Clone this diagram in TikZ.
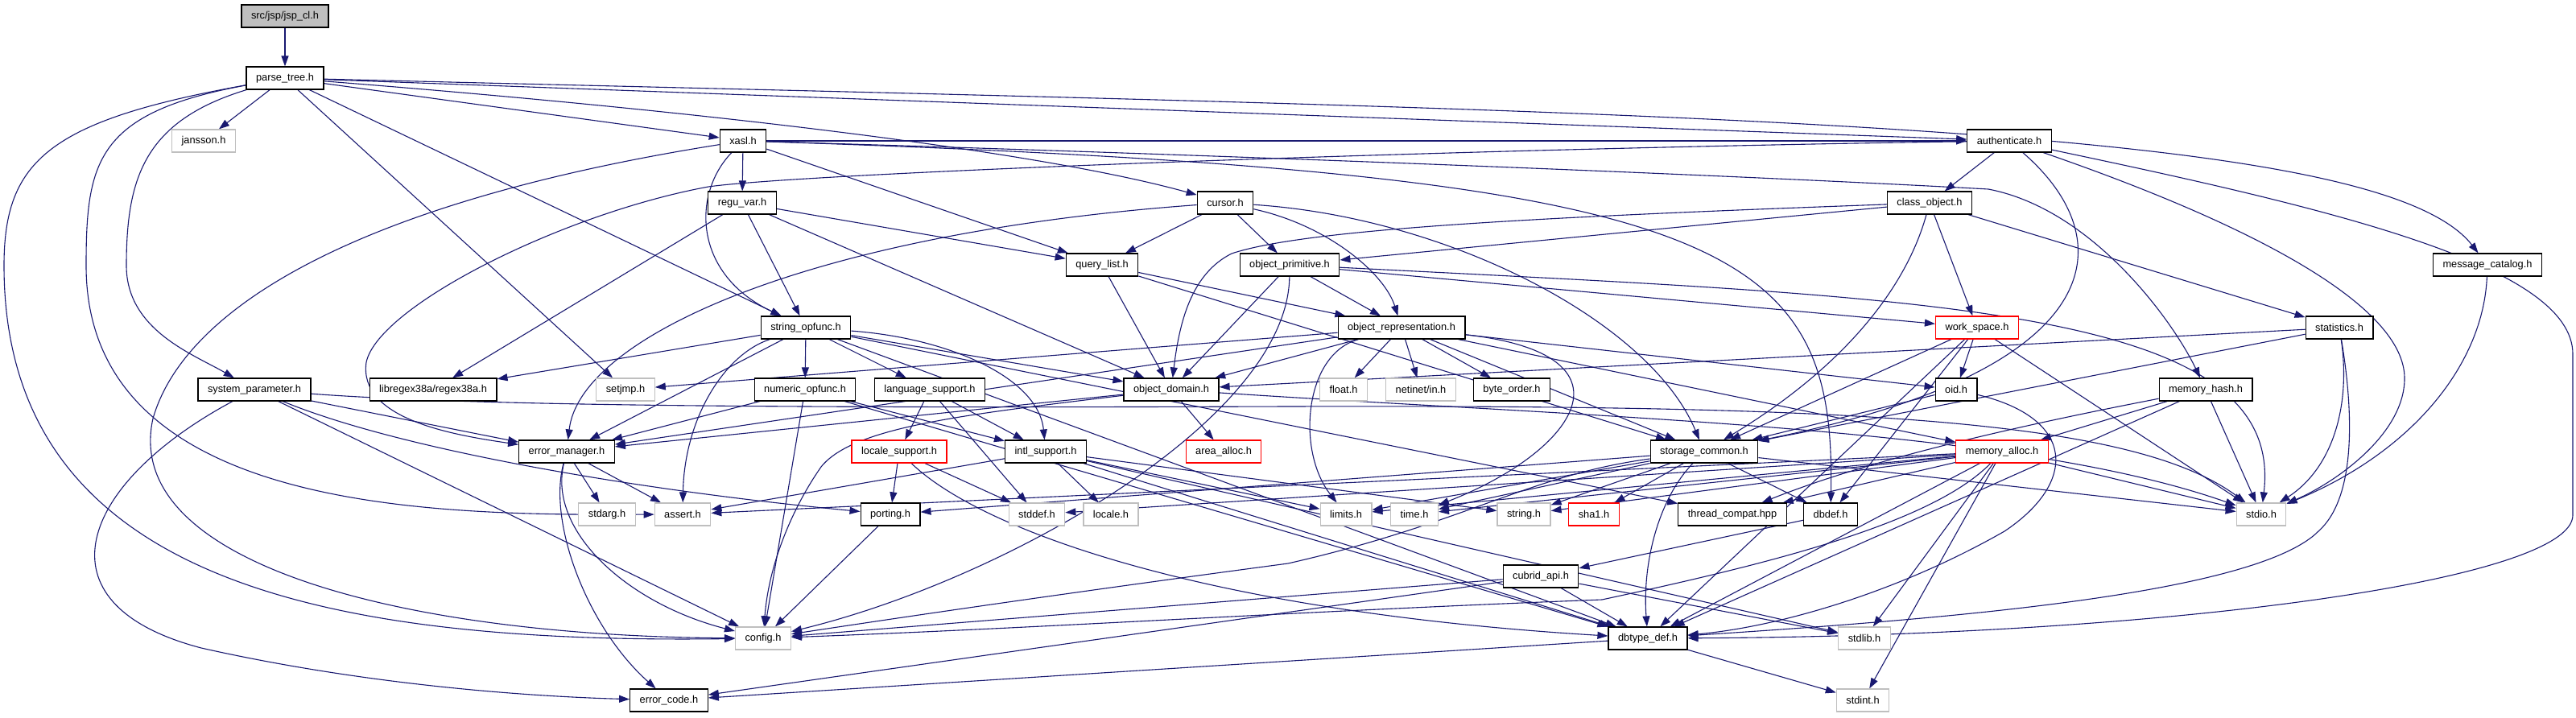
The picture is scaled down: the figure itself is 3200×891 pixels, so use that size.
\documentclass[tikz,border=0pt]{standalone}
\usepackage{fontspec}
\setmainfont{Liberation Sans}
\usetikzlibrary{arrows.meta}
\definecolor{incl}{RGB}{25,25,112}
\definecolor{sysgray}{RGB}{191,191,191}
\definecolor{trunc}{RGB}{255,0,0}
\pgfdeclarelayer{edgelayer}
\pgfsetlayers{edgelayer,main}
\begin{document}
\begin{tikzpicture}[x=1pt, y=-1pt, >={Stealth[length=13pt,width=9pt,inset=0pt]},
  font=\fontsize{12.8}{15}\selectfont,
  hdr/.style={draw=black, fill=white, line width=1.2pt, inner xsep=12pt, inner ysep=0pt, minimum height=28pt},
  syshdr/.style={hdr, draw=sysgray},
  cuthdr/.style={hdr, draw=trunc},
  tophdr/.style={hdr, fill=sysgray},
  dep/.style={->, incl, line width=1.1pt}]
  \useasboundingbox (0,0) rectangle (3200,891);
  \node[tophdr] (jspcl) at (354,20) {src/jsp/jsp\_cl.h};
  \node[hdr] (parsetree) at (354,97) {parse\_tree.h};
  \node[syshdr] (jansson) at (253,175) {jansson.h};
  \node[hdr] (xasl) at (923,175) {xasl.h};
  \node[hdr] (authenticate) at (2496,175) {authenticate.h};
  \node[hdr] (reguvar) at (922,252) {regu\_var.h};
  \node[hdr] (cursor) at (1522,252) {cursor.h};
  \node[hdr] (classobject) at (2397,252) {class\_object.h};
  \node[hdr] (querylist) at (1369,329) {query\_list.h};
  \node[hdr] (objprim) at (1602,329) {object\_primitive.h};
  \node[hdr] (msgcat) at (3090,329) {message\_catalog.h};
  \node[hdr] (stringop) at (1001,407) {string\_opfunc.h};
  \node[hdr] (objrep) at (1741,407) {object\_representation.h};
  \node[cuthdr] (workspace) at (2456,407) {work\_space.h};
  \node[hdr] (statistics) at (2906,407) {statistics.h};
  \node[hdr] (syspar) at (316,484) {system\_parameter.h};
  \node[hdr] (libregex) at (538,484) {libregex38a/regex38a.h};
  \node[syshdr] (setjmp) at (777,484) {setjmp.h};
  \node[hdr] (numop) at (1000,484) {numeric\_opfunc.h};
  \node[hdr] (langsup) at (1155,484) {language\_support.h};
  \node[hdr] (objdomain) at (1455,484) {object\_domain.h};
  \node[syshdr] (floath) at (1669,484) {float.h};
  \node[syshdr] (netinet) at (1765,484) {netinet/in.h};
  \node[hdr] (byteorder) at (1878,484) {byte\_order.h};
  \node[hdr] (oid) at (2430,484) {oid.h};
  \node[hdr] (memhash) at (2740,484) {memory\_hash.h};
  \node[hdr] (errmgr) at (704,561) {error\_manager.h};
  \node[cuthdr] (localesup) at (1117,561) {locale\_support.h};
  \node[hdr] (intlsup) at (1299,561) {intl\_support.h};
  \node[cuthdr] (areaalloc) at (1520,561) {area\_alloc.h};
  \node[hdr] (storagecommon) at (2117,561) {storage\_common.h};
  \node[cuthdr] (memalloc) at (2487,561) {memory\_alloc.h};
  \node[syshdr] (stdarg) at (754,639) {stdarg.h};
  \node[syshdr] (assert) at (848,639) {assert.h};
  \node[hdr] (porting) at (1106,639) {porting.h};
  \node[syshdr] (stddef) at (1288,639) {stddef.h};
  \node[syshdr] (locale) at (1380,639) {locale.h};
  \node[syshdr] (limits) at (1672,639) {limits.h};
  \node[syshdr] (time) at (1757,639) {time.h};
  \node[syshdr] (string) at (1893,639) {string.h};
  \node[cuthdr] (sha1) at (1980,639) {sha1.h};
  \node[hdr] (threadcompat) at (2152,639) {thread\_compat.hpp};
  \node[hdr] (dbdef) at (2274,639) {dbdef.h};
  \node[syshdr] (stdio) at (2809,639) {stdio.h};
  \node[hdr] (cubridapi) at (1914,716) {cubrid\_api.h};
  \node[syshdr] (config) at (948,793) {config.h};
  \node[hdr] (dbtypedef) at (2047,793) {dbtype\_def.h};
  \node[syshdr] (stdlib) at (2316,793) {stdlib.h};
  \node[hdr] (errorcode) at (831,870) {error\_code.h};
  \node[syshdr] (stdint) at (2314,870) {stdint.h};
  \begin{pgfonlayer}{edgelayer}
  \draw[dep] (jspcl) -- (parsetree);
  \draw[dep] (parsetree) -- (jansson);
  \draw[dep] (parsetree) -- (xasl);
  \draw[dep] (parsetree) -- (authenticate);
  \draw[dep] (parsetree) .. controls (900,140) and (1300,190) .. (cursor);
  \draw[dep] (parsetree) .. controls (2100,140) and (2950,150) .. (msgcat);
  \draw[dep] (parsetree) -- (stringop);
  \draw[dep] (parsetree) -- (setjmp);
  \draw[dep] (parsetree) .. controls (60,150) and (5,200) .. (5,330) .. controls (5,720) and (400,800) .. (config);
  \draw[dep] (parsetree) .. controls (120,140) and (107,200) .. (107,330) .. controls (107,640) and (550,640) .. (assert);
  \draw[dep] (parsetree) .. controls (180,150) and (157,220) .. (157,330) .. controls (157,410) and (240,440) .. (syspar);
  \draw[dep] (xasl) -- (reguvar);
  \draw[dep] (xasl) -- (querylist);
  \draw[dep] (xasl) .. controls (860,240) and (860,340) .. (stringop);
  \draw[dep] (xasl) -- (authenticate);
  \draw[dep] (xasl) .. controls (1600,195) and (2200,220) .. (2470,235) .. controls (2600,260) and (2700,400) .. (memhash);
  \draw[dep] (xasl) .. controls (2150,215) and (2280,300) .. (dbdef);
  \draw[dep] (xasl) .. controls (450,250) and (230,380) .. (190,520) .. controls (150,700) and (500,790) .. (config);
  \draw[dep] (reguvar) -- (querylist);
  \draw[dep] (reguvar) -- (stringop);
  \draw[dep] (reguvar) -- (libregex);
  \draw[dep] (reguvar) -- (objdomain);
  \draw[dep] (cursor) -- (querylist);
  \draw[dep] (cursor) -- (objprim);
  \draw[dep] (cursor) .. controls (1650,280) and (1720,340) .. (objrep);
  \draw[dep] (cursor) .. controls (1800,270) and (2050,400) .. (storagecommon);
  \draw[dep] (cursor) .. controls (1000,290) and (720,420) .. (errmgr);
  \draw[dep] (authenticate) -- (classobject);
  \draw[dep] (authenticate) .. controls (1800,185) and (1000,215) .. (880,232) .. controls (700,265) and (470,380) .. (455,450) .. controls (445,520) and (560,540) .. (errmgr);
  \draw[dep] (authenticate) .. controls (2640,300) and (2620,460) .. (storagecommon);
  \draw[dep] (authenticate) .. controls (2800,280) and (2987,380) .. (2987,470) .. controls (2987,540) and (2900,600) .. (stdio);
  \draw[dep] (authenticate) .. controls (2900,260) and (3196,330) .. (3196,440) -- (3196,640) .. controls (3196,720) and (2700,790) .. (dbtypedef);
  \draw[dep] (classobject) -- (objprim);
  \draw[dep] (classobject) -- (workspace);
  \draw[dep] (classobject) -- (statistics);
  \draw[dep] (classobject) .. controls (1900,270) and (1620,285) .. (1530,315) .. controls (1480,340) and (1465,400) .. (objdomain);
  \draw[dep] (classobject) .. controls (2370,350) and (2300,450) .. (storagecommon);
  \draw[dep] (querylist) -- (objrep);
  \draw[dep] (querylist) -- (objdomain);
  \draw[dep] (querylist) -- (storagecommon);
  \draw[dep] (objprim) -- (objrep);
  \draw[dep] (objprim) -- (objdomain);
  \draw[dep] (objprim) -- (workspace);
  \draw[dep] (objprim) .. controls (1600,520) and (1250,720) .. (config);
  \draw[dep] (objprim) .. controls (2400,370) and (2840,380) .. (stdio);
  \draw[dep] (msgcat) .. controls (3085,450) and (3000,560) .. (stdio);
  \draw[dep] (stringop) -- (numop);
  \draw[dep] (stringop) -- (langsup);
  \draw[dep] (stringop) .. controls (1180,420) and (1290,470) .. (intlsup);
  \draw[dep] (stringop) -- (objdomain);
  \draw[dep] (stringop) -- (libregex);
  \draw[dep] (stringop) -- (errmgr);
  \draw[dep] (stringop) .. controls (900,440) and (850,520) .. (assert);
  \draw[dep] (stringop) -- (dbtypedef);
  \draw[dep] (stringop) -- (threadcompat);
  \draw[dep] (objrep) -- (floath);
  \draw[dep] (objrep) -- (netinet);
  \draw[dep] (objrep) -- (byteorder);
  \draw[dep] (objrep) -- (setjmp);
  \draw[dep] (objrep) -- (objdomain);
  \draw[dep] (objrep) -- (errmgr);
  \draw[dep] (objrep) -- (storagecommon);
  \draw[dep] (objrep) -- (oid);
  \draw[dep] (objrep) -- (memalloc);
  \draw[dep] (objrep) .. controls (1620,440) and (1610,560) .. (limits);
  \draw[dep] (objrep) .. controls (2040,440) and (1960,560) .. (time);
  \draw[dep] (workspace) -- (oid);
  \draw[dep] (workspace) -- (storagecommon);
  \draw[dep] (workspace) -- (dbdef);
  \draw[dep] (workspace) -- (stdio);
  \draw[dep] (workspace) -- (dbtypedef);
  \draw[dep] (statistics) -- (objdomain);
  \draw[dep] (statistics) -- (storagecommon);
  \draw[dep] (statistics) .. controls (2920,500) and (2900,580) .. (stdio);
  \draw[dep] (statistics) .. controls (2925,520) and (2925,620) .. (2880,660) .. controls (2800,740) and (2400,770) .. (dbtypedef);
  \draw[dep] (syspar) -- (errmgr);
  \draw[dep] (syspar) .. controls (500,560) and (800,610) .. (porting);
  \draw[dep] (syspar) -- (config);
  \draw[dep] (syspar) .. controls (100,600) and (40,750) .. (250,805) .. controls (450,850) and (650,865) .. (errorcode);
  \draw[dep] (syspar) .. controls (600,505) and (1000,507) .. (1600,505) .. controls (2300,503) and (2650,520) .. (stdio);
  \draw[dep] (numop) -- (errmgr);
  \draw[dep] (numop) -- (config);
  \draw[dep] (numop) -- (intlsup);
  \draw[dep] (numop) -- (dbtypedef);
  \draw[dep] (langsup) -- (localesup);
  \draw[dep] (langsup) -- (intlsup);
  \draw[dep] (langsup) -- (stddef);
  \draw[dep] (objdomain) -- (areaalloc);
  \draw[dep] (objdomain) -- (errmgr);
  \draw[dep] (objdomain) .. controls (1200,515) and (1060,530) .. (1020,580) .. controls (985,630) and (955,700) .. (config);
  \draw[dep] (objdomain) .. controls (2000,520) and (2500,530) .. (stdio);
  \draw[dep] (oid) -- (storagecommon);
  \draw[dep] (oid) .. controls (2580,520) and (2580,600) .. (2490,660) .. controls (2350,740) and (2200,780) .. (dbtypedef);
  \draw[dep] (memhash) -- (memalloc);
  \draw[dep] (memhash) -- (stdio);
  \draw[dep] (memhash) .. controls (2450,540) and (2300,580) .. (threadcompat);
  \draw[dep] (memhash) -- (dbtypedef);
  \draw[dep] (memalloc) -- (stdio);
  \draw[dep] (memalloc) -- (threadcompat);
  \draw[dep] (memalloc) -- (stdlib);
  \draw[dep] (memalloc) -- (stdint);
  \draw[dep] (memalloc) -- (dbtypedef);
  \draw[dep] (memalloc) -- (stddef);
  \draw[dep] (memalloc) -- (string);
  \draw[dep] (memalloc) -- (time);
  \draw[dep] (memalloc) -- (limits);
  \draw[dep] (memalloc) -- (assert);
  \draw[dep] (memalloc) .. controls (2400,650) and (2200,700) .. (1990,745) .. controls (1600,760) and (1300,780) .. (config);
  \draw[dep] (storagecommon) -- (limits);
  \draw[dep] (storagecommon) -- (time);
  \draw[dep] (storagecommon) -- (string);
  \draw[dep] (storagecommon) -- (sha1);
  \draw[dep] (storagecommon) -- (dbdef);
  \draw[dep] (storagecommon) -- (porting);
  \draw[dep] (storagecommon) -- (stdio);
  \draw[dep] (storagecommon) .. controls (1900,590) and (1820,650) .. (1600,700) .. controls (1300,740) and (1100,770) .. (config);
  \draw[dep] (storagecommon) .. controls (2060,620) and (2040,700) .. (dbtypedef);
  \draw[dep] (intlsup) -- (assert);
  \draw[dep] (intlsup) -- (locale);
  \draw[dep] (intlsup) -- (limits);
  \draw[dep] (intlsup) -- (string);
  \draw[dep] (intlsup) -- (stdlib);
  \draw[dep] (intlsup) -- (dbtypedef);
  \draw[dep] (localesup) -- (porting);
  \draw[dep] (localesup) -- (stddef);
  \draw[dep] (localesup) .. controls (1220,660) and (1500,760) .. (dbtypedef);
  \draw[dep] (errmgr) -- (stdarg);
  \draw[dep] (errmgr) -- (assert);
  \draw[dep] (errmgr) .. controls (680,660) and (780,750) .. (config);
  \draw[dep] (errmgr) .. controls (680,650) and (730,780) .. (errorcode);
  \draw[dep] (porting) -- (config);
  \draw[dep] (dbdef) -- (cubridapi);
  \draw[dep] (cubridapi) -- (config);
  \draw[dep] (cubridapi) -- (dbtypedef);
  \draw[dep] (cubridapi) -- (errorcode);
  \draw[dep] (cubridapi) -- (stdlib);
  \draw[dep] (dbtypedef) -- (stdint);
  \draw[dep] (dbtypedef) -- (errorcode);
  \end{pgfonlayer}
\end{tikzpicture}
\end{document}
